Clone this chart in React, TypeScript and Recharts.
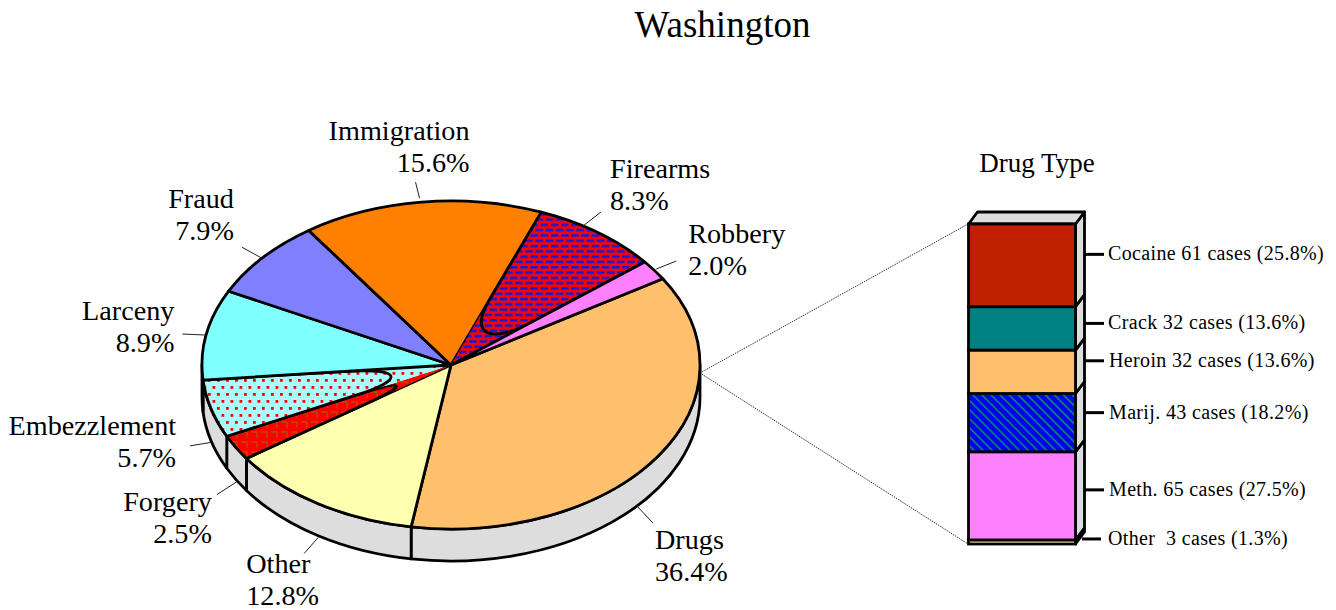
import React from "react";
import { PieChart, Pie, BarChart, Bar, XAxis, YAxis } from "recharts";

const W = 1336;
const H = 610;

// Offense mix
const sliceNames = ["Drugs", "Other", "Forgery", "Embezzlement", "Larceny", "Fraud", "Immigration", "Firearms", "Robbery"];
const sliceShares = [36.4, 12.8, 2.5, 5.7, 8.9, 7.9, 15.6, 8.3, 2.0];
const sliceFills = ["#FFC06E", "#FFFFB0", "url(#forgeryP)", "url(#embezP)", "#80FFFF", "#8080FF", "#FF8000", "url(#firearmsP)", "#FF80FF"];
const hairpinSlices = ["Forgery", "Embezzlement", "Firearms"];

// Drug type stack, bottom to top
const drugNames = ["Other\u00A0", "Meth.", "Marij.", "Heroin", "Crack", "Cocaine"];
const drugCases = [3, 65, 43, 32, 32, 61];
const drugShares = [1.3, 27.5, 18.2, 13.6, 13.6, 25.8];
const drugFills = ["#FFFFB0", "#FF80FF", "url(#marijP)", "#FFC06E", "#008080", "#C02000"];

// Label layout relative to each slice's rim point: leader start, leader end, text
const labelLayout: Record<string, { t0: number[]; t1: number[]; txt: number[]; anchor: "start" | "end" }> = {
  Drugs: { t0: [-20, 19], t1: [-5, 35], txt: [-3, 61], anchor: "start" },
  Other: { t0: [0, 1.7], t1: [-14, 17.7], txt: [-72, 37.7], anchor: "start" },
  Forgery: { t0: [1, 2], t1: [-19, 15], txt: [-24, 31], anchor: "end" },
  Embezzlement: { t0: [0, 1.5], t1: [-21, 5], txt: [-35, -6], anchor: "end" },
  Larceny: { t0: [-1, 0.6], t1: [-24, -0.4], txt: [-32, -14.4], anchor: "end" },
  Fraud: { t0: [-1, 0.7], t1: [-21, -10.3], txt: [-29, -50], anchor: "end" },
  Immigration: { t0: [-2, -4], t1: [-6, -20], txt: [48, -62], anchor: "end" },
  Firearms: { t0: [-15, -6.6], t1: [3, -20.6], txt: [12, -54.6], anchor: "start" },
  Robbery: { t0: [2, -1.2], t1: [22, -9.2], txt: [34, -27], anchor: "start" },
};
const drugTickOffset = [-3, -6, -10, -11, -5, -11];
const drugTextX = [1108, 1109, 1109, 1109, 1108, 1108];
const drugTickX = [[1082, 1101], [1084, 1104], [1084, 1104], [1084, 1104], [1084, 1104], [1084, 1104]];

const FONT = "'Liberation Serif', 'Times New Roman', serif";
const CX = 451;
const CY = 365;
const RX = 249;
const SQUASH = 164 / 249;
const DEPTH = 32;
const START = 31.7;
const INK = "#000";
const SW = 2.8;

const pieData = sliceNames.map((name, i) => ({ name, value: sliceShares[i], fill: sliceFills[i] }));
const barRow: Record<string, string | number> = { row: "Drug Type" };
drugNames.forEach((n, i) => {
  barRow[n] = drugCases[i];
});
const barData = [barRow];
const total = drugCases.reduce((a, b) => a + b, 0);

const pt = (cx: number, cy: number, r: number, deg: number) => {
  const a = (deg * Math.PI) / 180;
  return [cx + r * Math.cos(a), cy - r * SQUASH * Math.sin(a)];
};
const lerp = (p: number[], q: number[], t: number) => [p[0] + (q[0] - p[0]) * t, p[1] + (q[1] - p[1]) * t];
const f = (p: number[]) => `${p[0].toFixed(2)} ${p[1].toFixed(2)}`;

function TopSlice(props: any) {
  const { cx, cy, outerRadius: r, startAngle, endAngle, fill, payload } = props;
  const c = [cx, cy];
  const a = pt(cx, cy, r, startAngle); // clockwise: a is the leading edge
  const b = pt(cx, cy, r, endAngle);
  const ry = r * SQUASH;
  const large = Math.abs(startAngle - endAngle) > 180 ? 1 : 0;
  const arc = `A ${r} ${ry} 0 ${large} 1 ${f(b)}`;
  const wedge = `M ${f(c)} L ${f(a)} ${arc} Z`;
  const name = payload?.name ?? props.name;
  if (hairpinSlices.includes(name)) {
    const p1 = lerp(b, c, 0.58);
    const p2 = lerp(a, c, 0.58);
    const c1 = lerp(b, c, 0.8);
    const c2 = lerp(a, c, 0.8);
    const outline = `M ${f(a)} ${arc} L ${f(p1)} C ${f(c1)} ${f(c2)} ${f(p2)} Z`;
    return (
      <g>
        <path d={wedge} fill={fill} stroke="none" />
        <path d={outline} fill="none" stroke={INK} strokeWidth={SW} strokeLinejoin="round" />
      </g>
    );
  }
  return <path d={wedge} fill={fill} stroke={INK} strokeWidth={SW} strokeLinejoin="round" />;
}

function WallSlice(props: any) {
  const { cx, cy, outerRadius: r, startAngle, endAngle } = props;
  const s = Math.min(startAngle, 0);
  const e = Math.max(endAngle, -180);
  if (s <= e) return <g />;
  const p0 = pt(cx, cy, r, s);
  const p1 = pt(cx, cy, r, e);
  const ry = r * SQUASH;
  const d = `M ${f(p0)} A ${r} ${ry} 0 0 1 ${f(p1)} L ${p1[0].toFixed(2)} ${(p1[1] + DEPTH).toFixed(2)} A ${r} ${ry} 0 0 0 ${p0[0].toFixed(2)} ${(p0[1] + DEPTH).toFixed(2)} Z`;
  return <path d={d} fill="#DDDDDD" stroke={INK} strokeWidth={SW} strokeLinejoin="round" />;
}

function SliceLabel(props: any) {
  const { cx, cy, outerRadius: r, midAngle, payload, name: n } = props;
  const name = payload?.name ?? n;
  const layout = labelLayout[name];
  if (!layout) return null;
  const p = pt(cx, cy, r, midAngle);
  const sin = Math.sin((midAngle * Math.PI) / 180);
  const ay = p[1] + (sin < 0 ? DEPTH : 0);
  const value = payload?.value ?? props.value;
  return (
    <g>
      <line x1={p[0] + layout.t0[0]} y1={ay + layout.t0[1]} x2={p[0] + layout.t1[0]} y2={ay + layout.t1[1]} stroke="#222" strokeWidth={1} />
      <text x={p[0] + layout.txt[0]} y={ay + layout.txt[1]} textAnchor={layout.anchor} fontFamily={FONT} fontSize={28.2} fill="#000">
        {name}
      </text>
      <text x={p[0] + layout.txt[0]} y={ay + layout.txt[1] + 32} textAnchor={layout.anchor} fontFamily={FONT} fontSize={28.2} fill="#000">
        {value.toFixed(1)}%
      </text>
    </g>
  );
}

function DrugSegment(props: any) {
  const { x, y, width: w, height: h, fill, dataKey } = props;
  const i = drugNames.indexOf(dataKey);
  const dx = 9;
  const dy = 12;
  const top = i === drugNames.length - 1;
  const tickY = y + h / 2 + drugTickOffset[i];
  return (
    <g>
      <polygon points={`${x + w},${y + h} ${x + w + dx},${y + h - dy} ${x + w + dx},${y - dy} ${x + w},${y}`} fill="#DDDDDD" stroke={INK} strokeWidth={SW} strokeLinejoin="round" />
      {top && <polygon points={`${x},${y} ${x + dx},${y - dy} ${x + w + dx},${y - dy} ${x + w},${y}`} fill="#DDDDDD" stroke={INK} strokeWidth={SW} strokeLinejoin="round" />}
      <rect x={x} y={y} width={w} height={h} fill={fill} stroke={INK} strokeWidth={SW} />
      <line x1={drugTickX[i][0]} x2={drugTickX[i][1]} y1={tickY} y2={tickY} stroke={INK} strokeWidth={3} />
      <text x={drugTextX[i]} y={tickY + 6} fontFamily={FONT} fontSize={20} letterSpacing={0.35} fill="#000">
        {`${drugNames[i]} ${drugCases[i]} cases (${drugShares[i].toFixed(1)}%)`}
      </text>
    </g>
  );
}

const Patterns = () => (
  <defs>
    <pattern id="firearmsP" width="10.2" height="10.6" patternUnits="userSpaceOnUse">
      <rect width="10.2" height="10.6" fill="#FF0000" />
      <rect x="0" y="1" width="7.6" height="2.6" fill="#1A1AD0" />
      <rect x="5.1" y="6.3" width="5.1" height="2.6" fill="#1A1AD0" />
      <rect x="0" y="6.3" width="2.5" height="2.6" fill="#1A1AD0" />
    </pattern>
    <pattern id="embezP" width="9" height="14" patternUnits="userSpaceOnUse">
      <rect width="9" height="14" fill="#A8FFFF" />
      <rect x="1" y="1" width="2.8" height="2.8" fill="#FF0000" />
      <rect x="5.5" y="8" width="2.8" height="2.8" fill="#FF0000" />
    </pattern>
    <pattern id="forgeryP" width="10" height="10" patternUnits="userSpaceOnUse">
      <rect width="10" height="10" fill="#FF0000" />
      <path d="M1 2 H7 V8" fill="none" stroke="#B84A00" strokeWidth="1.4" />
    </pattern>
    <pattern id="marijP" width="6.4" height="6.4" patternUnits="userSpaceOnUse" patternTransform="rotate(45 0 0)">
      <rect width="6.4" height="6.4" fill="#0000F0" />
      <rect x="0" y="0" width="6.4" height="1.8" fill="#0A7A7A" />
    </pattern>
  </defs>
);

export default function App() {
  return (
    <div style={{ position: "absolute", left: 0, top: 0, width: W, height: H, overflow: "hidden", background: "#fff" }}>
      <div style={{ position: "absolute", left: 0, top: 0 }}>
        <PieChart width={W} height={H} margin={{ top: 0, right: 0, bottom: 0, left: 0 }}>
          <Patterns />
          <text x={722.5} y={37} textAnchor="middle" fontFamily={FONT} fontSize={37} fill="#000">
            Washington
          </text>
          <line x1={700} y1={373} x2={968} y2={224} stroke="#333" strokeWidth={1} strokeDasharray="1.5 1" />
          <line x1={700} y1={373} x2={968} y2={544} stroke="#333" strokeWidth={1} strokeDasharray="1.5 1" />
          <Pie
            data={pieData}
            dataKey="value"
            nameKey="name"
            cx={CX}
            cy={CY}
            innerRadius={0}
            outerRadius={RX}
            startAngle={START}
            endAngle={START - 360}
            isAnimationActive={false}
            label={false}
            labelLine={false}
            shape={WallSlice}
          />
          <Pie
            data={pieData}
            dataKey="value"
            nameKey="name"
            cx={CX}
            cy={CY}
            innerRadius={0}
            outerRadius={RX}
            startAngle={START}
            endAngle={START - 360}
            isAnimationActive={false}
            label={SliceLabel}
            labelLine={false}
            shape={TopSlice}
          />
        </PieChart>
      </div>
      <div style={{ position: "absolute", left: 0, top: 0 }}>
        <BarChart width={W} height={H} data={barData} margin={{ top: 224, left: 968.5, right: W - 1075, bottom: H - 544 }} barCategoryGap={0} style={{ overflow: "visible" }}>
          <text x={1037} y={172} textAnchor="middle" fontFamily={FONT} fontSize={27} fill="#000">
            Drug Type
          </text>
          <XAxis dataKey="row" type="category" hide />
          <YAxis type="number" domain={[0, total]} hide />
          {drugNames.map((n, i) => (
            <Bar key={n} dataKey={n} stackId="drug" fill={drugFills[i]} isAnimationActive={false} shape={DrugSegment} />
          ))}
        </BarChart>
      </div>
    </div>
  );
}
